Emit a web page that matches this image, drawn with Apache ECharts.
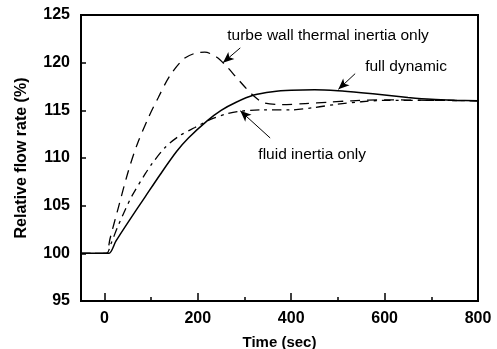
<!DOCTYPE html>
<html>
<head>
<meta charset="utf-8">
<script src="https://cdn.jsdelivr.net/npm/echarts@6/dist/echarts.min.js"></script>
<style>
  html, body { margin: 0; padding: 0; background: #fff; }
  #chart { width: 497px; height: 349px; }
</style>
</head>
<body>
<div id="chart"></div>
<script>
  // values: [time (sec), relative flow rate (%)]
  var fullDynamic = [
    [-50, 100], [0, 100], [10, 100], [25, 101.3], [50, 103.2], [87, 105.9],
    [120, 108.3], [155, 110.7], [180, 112.1], [220, 113.9], [250, 115.0],
    [280, 115.8], [320, 116.6], [360, 116.95], [400, 117.1], [450, 117.15],
    [500, 117.05], [550, 116.85], [600, 116.6], [650, 116.35], [700, 116.15],
    [750, 116.05], [800, 116.0]
  ];
  var turbeWall = [
    [-50, 100], [0, 100], [5, 100], [12, 101.5], [30, 104.8], [50, 108.4],
    [70, 111.4], [95, 114.3], [115, 116.3], [140, 118.6], [170, 120.4],
    [195, 121.0], [215, 121.1], [240, 120.6], [262, 119.6], [280, 118.6],
    [300, 117.5], [320, 116.5], [341, 115.8], [380, 115.6], [430, 115.7],
    [480, 115.85], [530, 116.0], [600, 116.1], [700, 116.05], [800, 116.0]
  ];
  var fluidInertia = [
    [-50, 100], [0, 100], [5, 100], [15, 101.1], [27, 102.6], [44, 104.5],
    [60, 106.1], [87, 108.3], [102, 109.4], [130, 111.1], [160, 112.3],
    [194, 113.2], [230, 114.1], [260, 114.6], [290, 114.9], [340, 115.05],
    [400, 115.05], [450, 115.3], [500, 115.65], [550, 115.9], [600, 116.05],
    [700, 116.05], [800, 116.0]
  ];

  var xTicks = [0, 200, 400, 600, 800];
  var xMinorTicks = [100, 300, 500, 700];

  // annotation texts and arrows, in data units
  var labels = [
    { text: 'turbe wall thermal inertia only', at: [479, 122.8] },
    { text: 'full dynamic', at: [646, 119.55] },
    { text: 'fluid inertia only', at: [445, 110.35] }
  ];
  var arrows = [
    [[291, 121.55], [254, 120.0]],
    [[537, 118.85], [501, 117.2]],
    [[355, 112.1], [291, 114.95]]
  ];

  var chart = echarts.init(document.getElementById('chart'));

  var boldFont = '"Liberation Sans", Arial, sans-serif';

  var option = {
    animation: false,
    backgroundColor: '#fff',
    grid: {
      left: 81, right: 19, top: 15, bottom: 48,
      outerBoundsMode: 'none',
      show: true, borderColor: '#000', borderWidth: 2
    },
    xAxis: [{
      type: 'value',
      min: -50, max: 800,
      name: 'Time (sec)',
      nameLocation: 'middle',
      nameGap: 34,
      nameTextStyle: { fontFamily: boldFont, fontWeight: 'bold', fontSize: 15, color: '#000' },
      splitLine: { show: false },
      axisLine: { onZero: false, lineStyle: { color: '#000', width: 2 } },
      axisTick: { inside: true, length: 8, customValues: xTicks, lineStyle: { color: '#000', width: 1.5 } },
      axisLabel: { customValues: xTicks, margin: 10, fontFamily: boldFont, fontWeight: 'bold', fontSize: 16, color: '#000' }
    }, {
      type: 'value',
      min: -50, max: 800,
      position: 'bottom',
      splitLine: { show: false },
      axisLine: { show: false, onZero: false },
      axisTick: { inside: true, length: 4, customValues: xMinorTicks, lineStyle: { color: '#000', width: 1.5 } },
      axisLabel: { show: false }
    }],
    yAxis: {
      type: 'value',
      min: 95, max: 125, interval: 5,
      name: 'Relative flow rate (%)',
      nameLocation: 'middle',
      nameGap: 51,
      nameTextStyle: { fontFamily: boldFont, fontWeight: 'bold', fontSize: 16, color: '#000' },
      splitLine: { show: false },
      axisLine: { onZero: false, lineStyle: { color: '#000', width: 2 } },
      axisTick: { inside: true, length: 5, lineStyle: { color: '#000', width: 1.5 } },
      axisLabel: { margin: 11, fontFamily: boldFont, fontWeight: 'bold', fontSize: 16, color: '#000' }
    },
    series: [{
      name: 'full dynamic',
      type: 'line',
      data: fullDynamic,
      smooth: 0.3,
      showSymbol: false,
      lineStyle: { color: '#000', width: 1.5 },
      markPoint: {
        symbol: 'circle',
        symbolSize: 0,
        label: {
          show: true, position: 'inside', color: '#000',
          fontFamily: boldFont, fontSize: 15.5,
          formatter: function (p) { return p.name; }
        },
        data: labels.map(function (l) { return { name: l.text, coord: l.at }; })
      },
      markLine: {
        silent: true,
        symbol: ['none', 'arrow'],
        symbolSize: [7, 11],
        label: { show: false },
        lineStyle: { color: '#000', width: 1, type: 'solid' },
        data: arrows.map(function (a) { return [{ coord: a[0] }, { coord: a[1] }]; })
      }
    }, {
      name: 'turbe wall thermal inertia only',
      type: 'line',
      data: turbeWall,
      smooth: 0.3,
      showSymbol: false,
      lineStyle: { color: '#000', width: 1.3, type: [10, 7] }
    }, {
      name: 'fluid inertia only',
      type: 'line',
      data: fluidInertia,
      smooth: 0.3,
      showSymbol: false,
      lineStyle: { color: '#000', width: 1.3, type: [9, 5, 3, 5] }
    }]
  };

  chart.setOption(option);
</script>
</body>
</html>
